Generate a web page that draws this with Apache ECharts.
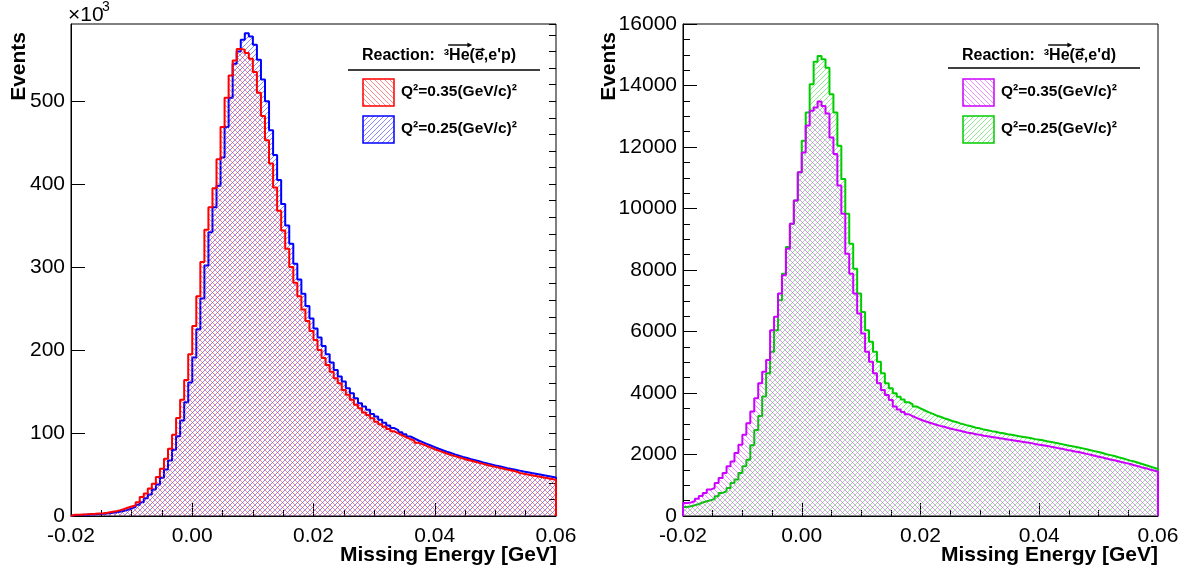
<!DOCTYPE html>
<html><head><meta charset="utf-8">
<script src="https://cdn.jsdelivr.net/npm/echarts@6/dist/echarts.min.js"></script>
<style>html,body{margin:0;padding:0;background:#fff}#c{width:1183px;height:580px}</style>
</head><body><div id="c"></div>
<script>
// ---- histogram definition ----
const binLow = -0.02;
const binHigh = 0.06;
const nBins = 120;
const xTickValues = [-0.02, 0.00, 0.02, 0.04, 0.06];
const epYTicks = [0, 100, 200, 300, 400, 500];           // x10^3
const edYTicks = [0, 2000, 4000, 6000, 8000, 10000, 12000, 14000, 16000];
const legendLabels = ['Q²=0.35(GeV/c)²', 'Q²=0.25(GeV/c)²'];
const headerEp = "Reaction:  ³He(e,e'p)";
const headerEd = "Reaction:  ³He(e,e'd)";

// 3He(e,e'p), Events in units of 10^3
const epQ035 = [1.5,1.6,1.8,2.0,2.3,2.6,3.0,3.4,4.0,4.8,
 5.6,6.8,8.2,10.0,11.5,12.7,16.7,22.8,27,33,
 39,47,57,69,81,98,118,140,164,195,
 229,265,306,345,372,395,430,469,504,531,
 549,563,562,558,551,535,510,482,453,425,
 396,368,344,322,300,281,265,249,235,223,
 212,200,190.5,182,174,166,160,152,146,140,
 134,130,124.6,121.8,117.8,113.7,110.5,107.6,104.8,102,
 99.6,97.2,94.8,92.7,90.7,88.2,86.5,84.5,82.5,80.5,
 78.8,77,75.3,73.6,72.2,70.8,69.2,67.9,66.6,65.3,
 64.0,62.8,61.5,60.3,59.2,58.1,57.0,55.9,54.9,53.9,
 52.0,51.0,50.1,49.2,48.3,47.4,46.5,45.6,44.7,43.8];
const epQ025 = [1.2,1.3,1.4,1.6,1.8,2.0,2.3,2.6,3.0,3.5,
 4.2,5.0,6.0,7.4,9.0,11,13.5,16.5,21.5,26,
 32,38,46,56,67,80,96,115,137,161,
 191,225,262,302,342,372,398,432,469,504,
 545,560,574,582,578,568,550,526,500,465,
 435,405,376,350,328,304,285,268,253,238,
 226,215,205,195,185,176,168,162,154,148,
 142,136,132,128,123,120,116,112.5,109,106,
 103.6,101,98.4,95.8,93.4,91,89,87,85,83,
 81,79.2,77.5,75.9,74.3,72.8,71.3,69.9,68.5,67.2,
 65.9,64.6,63.4,62.2,61.0,59.9,58.8,57.7,56.7,55.7,
 54.7,53.7,52.8,51.8,50.9,50.0,49.1,48.2,47.3,46.4];
// 3He(e,e'd), Events
const edQ035 = [420,440,480,560,650,750,859,914,1076,1238,
 1400,1614,1776,2048,2317,2641,3020,3397,3831,4317,
 4693,5072,6044,6476,7233,7827,8692,9502,10258,11175,
 11823,12700,13175,13281,13476,13337,13087,12310,11770,10744,
 9827,8530,7882,7234,6586,5938,5341,5017,4641,4317,
 4100,3938,3776,3560,3460,3380,3310,3250,3190,3140,
 3090,3050,3010,2970,2930,2900,2860,2830,2800,2770,
 2740,2710,2690,2660,2640,2610,2590,2570,2550,2530,
 2510,2490,2470,2450,2430,2410,2390,2370,2340,2320,
 2300,2280,2250,2230,2200,2180,2150,2130,2100,2080,
 2050,2020,1990,1960,1930,1900,1870,1840,1810,1780,
 1750,1720,1690,1650,1620,1580,1550,1510,1480,1440];
const edQ025 = [290,320,350,390,440,480,512,557,642,752,
 804,914,1076,1183,1400,1614,1831,2300,2800,3250,
 3883,4641,5341,6044,7017,7882,8744,9502,10258,11175,
 12200,13120,14040,14773,14957,14850,14578,13716,13120,12040,
 10961,9827,8855,8044,7234,6638,6044,5665,5341,5017,
 4641,4317,4155,3993,3880,3790,3700,3640,3560,3500,
 3440,3380,3330,3270,3230,3180,3140,3090,3060,3010,
 2980,2940,2910,2870,2850,2810,2790,2760,2740,2710,
 2690,2660,2640,2620,2590,2570,2550,2530,2500,2480,
 2460,2430,2410,2380,2360,2330,2300,2280,2250,2230,
 2200,2170,2140,2110,2080,2050,2010,1980,1950,1910,
 1880,1840,1800,1770,1730,1690,1650,1610,1570,1530];

// ---- styling ----
const FONT = '"Liberation Sans", Arial, Helvetica, sans-serif';
const C_RED = '#ff0000', C_BLUE = '#0000ff', C_MAG = '#cc00ff', C_GRN = '#00cc00';

function hatch(color, dir) {
  const n = 5;
  const c = document.createElement('canvas');
  c.width = n; c.height = n;
  const g = c.getContext('2d');
  g.fillStyle = color;
  for (let k = 0; k < n; k++) {
    const x = dir === 'back' ? k : n - 1 - k;
    g.fillRect(x, k, 1, 1);
  }
  return { image: c, repeat: 'repeat' };
}
const P_RED = hatch('rgba(255,40,40,0.55)', 'back');
const P_BLUE = hatch('rgba(40,40,255,0.55)', 'fwd');
const P_MAG = hatch('rgba(210,40,255,0.5)', 'back');
const P_GRN = hatch('rgba(40,210,40,0.5)', 'fwd');

function histPoints(vals) {
  const w = (binHigh - binLow) / nBins;
  const pts = [[binLow, 0]];
  vals.forEach((v, i) => pts.push([binLow + i * w, v]));
  pts.push([binHigh, vals[vals.length - 1]]);
  pts.push([binHigh, 0]);
  return pts;
}
function histSeries(name, vals, color, pattern, idx, z) {
  return {
    type: 'line', name, step: 'end', data: histPoints(vals),
    xAxisIndex: idx, yAxisIndex: idx === 0 ? 0 : 2,
    showSymbol: false, symbol: 'none', clip: true, z,
    lineStyle: { color, width: 2 },
    itemStyle: { color },
    areaStyle: { color: pattern, opacity: 1 },
    animation: false
  };
}

const axisFont = { fontFamily: FONT, fontSize: 21, color: '#000' };
function xAxis(gi) {
  return {
    type: 'value', gridIndex: gi, min: xTickValues[0], max: xTickValues[xTickValues.length - 1],
    interval: 0.02,
    axisLine: { show: true, onZero: false, lineStyle: { color: '#000', width: 1 } },
    axisTick: { show: true, inside: true, length: 13, lineStyle: { color: '#000' } },
    minorTick: { show: true, splitNumber: 4, length: 6, lineStyle: { color: '#000' } },
    splitLine: { show: false },
    axisLabel: Object.assign({ margin: 10, formatter: v => v.toFixed(2) }, axisFont)
  };
}

const grids = [
  { left: 71, top: 24, width: 485, height: 492, show: true, borderColor: '#000', borderWidth: 1 },
  { left: 683, top: 24, width: 475, height: 492, show: true, borderColor: '#000', borderWidth: 1 }
];

const plain = v => String(Math.round(v));
const yAxes = [
  { type: 'value', gridIndex: 0, min: 0, max: 593, interval: epYTicks[1] - epYTicks[0],
    axisLine: { show: true, onZero: false, lineStyle: { color: '#000' } },
    axisTick: { show: true, inside: true, length: 14, lineStyle: { color: '#000' } },
    splitLine: { show: false },
    axisLabel: Object.assign({ margin: 6, showMaxLabel: false, formatter: plain }, axisFont) },
  { type: 'value', gridIndex: 0, min: 0, max: 593, interval: 20,
    axisLine: { show: false, onZero: false }, axisLabel: { show: false }, splitLine: { show: false },
    axisTick: { show: true, inside: true, length: 7, lineStyle: { color: '#000' } } },
  { type: 'value', gridIndex: 1, min: 0, max: edYTicks[edYTicks.length - 1], interval: edYTicks[1] - edYTicks[0],
    axisLine: { show: true, onZero: false, lineStyle: { color: '#000' } },
    axisTick: { show: true, inside: true, length: 14, lineStyle: { color: '#000' } },
    minorTick: { show: true, splitNumber: 4, length: 7, lineStyle: { color: '#000' } },
    splitLine: { show: false },
    axisLabel: Object.assign({ margin: 6, formatter: plain }, axisFont) }
];

// text measuring for legend header arrows
const mctx = document.createElement('canvas').getContext('2d');
const HFONT = 'bold 16px ' + FONT;
mctx.font = HFONT;
const mw = s => mctx.measureText(s).width;

function legendGraphics(dx, header, lineY, c1, p1, c2, p2) {
  const g = [];
  const hx = 362 + dx, hy = 56;
  g.push({ type: 'text', x: hx, y: hy, style: { text: header, font: HFONT, fill: '#000', textAlign: 'left', textVerticalAlign: 'middle', verticalAlign: 'middle' } });
  const pre = header.indexOf('He');
  const heStart = hx + mw(header.slice(0, pre));
  const heEnd = hx + mw(header.slice(0, pre + 2));
  const eStart = hx + mw(header.slice(0, pre + 3));
  const eEnd = hx + mw(header.slice(0, pre + 4));
  const arrow = (x0, x1, y, h) => {
    g.push({ type: 'line', shape: { x1: x0, y1: y, x2: x1 - 2, y2: y }, style: { stroke: '#000', lineWidth: 1.4 } });
    g.push({ type: 'polygon', shape: { points: [[x1 - h * 1.6, y - h], [x1 + 0.5, y], [x1 - h * 1.6, y + h]] }, style: { fill: '#000' } });
  };
  arrow(heStart - 1, heEnd + 2, 45, 2.6);
  arrow(eStart + 0.5, eEnd + 1, 49.5, 2.0);
  g.push({ type: 'line', shape: { x1: 348 + dx, y1: lineY, x2: 540 + dx, y2: lineY }, style: { stroke: '#000', lineWidth: 1.5 } });
  const entries = [[c1, p1, 79, 92], [c2, p2, 116, 129]];
  entries.forEach(([c, p, by, ty], k) => {
    g.push({ type: 'rect', shape: { x: 363 + dx, y: by, width: 31, height: 27 }, style: { fill: p, stroke: c, lineWidth: 1.5 } });
    g.push({ type: 'text', x: 401 + dx, y: ty, style: { text: legendLabels[k], font: 'bold 15.5px ' + FONT, fill: '#000', textAlign: 'left', textVerticalAlign: 'middle', verticalAlign: 'middle' } });
  });
  return g;
}

const TFONT = 'bold 21px ' + FONT;
const graphics = [
  { type: 'text', x: 557, y: 555, style: { text: 'Missing Energy [GeV]', font: TFONT, fill: '#000', textAlign: 'right', textVerticalAlign: 'middle', verticalAlign: 'middle' } },
  { type: 'text', x: 1158, y: 555, style: { text: 'Missing Energy [GeV]', font: TFONT, fill: '#000', textAlign: 'right', textVerticalAlign: 'middle', verticalAlign: 'middle' } },
  { type: 'text', x: 19, y: 32, rotation: Math.PI / 2, style: { text: 'Events', font: TFONT, fill: '#000', textAlign: 'right', textVerticalAlign: 'middle', verticalAlign: 'middle' } },
  { type: 'text', x: 609, y: 32, rotation: Math.PI / 2, style: { text: 'Events', font: TFONT, fill: '#000', textAlign: 'right', textVerticalAlign: 'middle', verticalAlign: 'middle' } },
  { type: 'text', x: 68, y: 15, style: { text: '×10', font: '21px ' + FONT, fill: '#000', textAlign: 'left', textVerticalAlign: 'middle', verticalAlign: 'middle' } },
  { type: 'text', x: 102, y: 7, style: { text: '3', font: '14px ' + FONT, fill: '#000', textAlign: 'left', textVerticalAlign: 'middle', verticalAlign: 'middle' } }
].concat(legendGraphics(0, headerEp, 70, C_RED, P_RED, C_BLUE, P_BLUE))
 .concat(legendGraphics(600, headerEd, 68, C_MAG, P_MAG, C_GRN, P_GRN));

const chart = echarts.init(document.getElementById('c'), null, { renderer: 'canvas' });
chart.setOption({
  animation: false,
  backgroundColor: '#fff',
  grid: grids,
  xAxis: [xAxis(0), xAxis(1)],
  yAxis: yAxes,
  series: [
    histSeries(legendLabels[1], epQ025, C_BLUE, P_BLUE, 0, 2),
    histSeries(legendLabels[0], epQ035, C_RED, P_RED, 0, 3),
    histSeries(legendLabels[1], edQ025, C_GRN, P_GRN, 1, 2),
    histSeries(legendLabels[0], edQ035, C_MAG, P_MAG, 1, 3)
  ],
  graphic: graphics
});
</script></body></html>
